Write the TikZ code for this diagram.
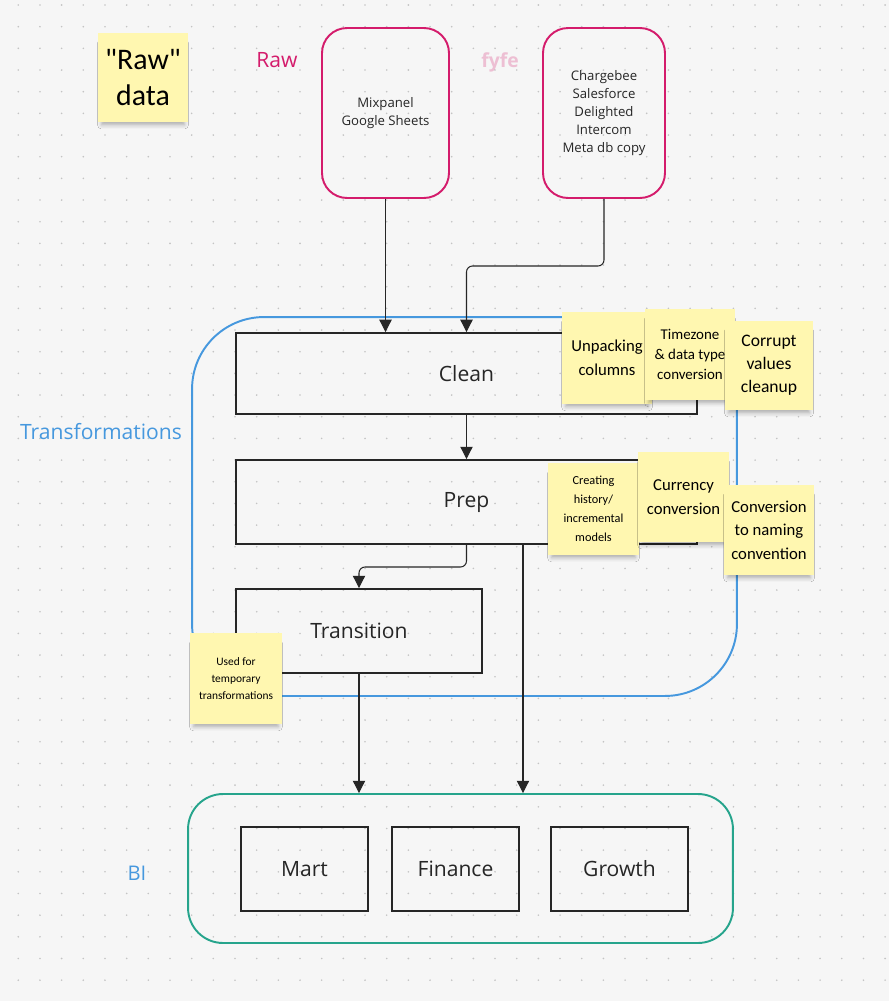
\documentclass[tikz,border=0pt]{standalone}
\usepackage{fontspec}
\setmainfont{Open Sans}
\newfontfamily\notefont{Carlito}
\usetikzlibrary{arrows.meta,shadows.blur}

\definecolor{rawpink}{RGB}{212,28,108}
\definecolor{trblue}{RGB}{70,152,222}
\definecolor{biteal}{RGB}{38,164,140}
\definecolor{noteyellow}{RGB}{255,247,176}
\definecolor{boardgray}{RGB}{246,246,246}
\definecolor{dotgray}{RGB}{196,196,196}
\definecolor{inkgray}{RGB}{38,38,38}

\begin{document}
\begin{tikzpicture}[x=0.02cm,y=-0.02cm,>={Triangle[width=7pt,length=7pt]},
  box/.style={draw=inkgray,line width=1.1pt,inner sep=0pt,text=inkgray,font=\fontsize{12}{14}\selectfont},
  srcbox/.style={draw=rawpink,line width=1.1pt,rounded corners=0.5cm,inner sep=0pt,align=center,text=inkgray,font=\fontsize{7.5}{10.2}\selectfont},
  zone/.style={line width=1.1pt,inner sep=0pt},
  note/.style={fill=noteyellow,inner sep=0pt,align=center,text=black,
    blur shadow={shadow xshift=0pt,shadow yshift=-4pt,shadow blur radius=2.5pt,shadow opacity=30,shadow scale=0.92}},
  link/.style={->,draw=inkgray,line width=0.6pt}]

\useasboundingbox (0,0) rectangle (889,1001);
\fill[boardgray] (0,0) rectangle (889,1001);
\foreach \i in {0,...,40} {
  \foreach \j in {0,...,45} {
    \fill[dotgray] (18.3+21.67*\i,5+21.67*\j) circle[radius=0.018cm];
  }
}

% raw sources
\node[note,minimum width=1.8cm,minimum height=1.78cm,font=\notefont\fontsize{17}{20}\selectfont] (rawnote) at (143,77.5) {"Raw"\\data};
\node[text=rawpink,font=\fontsize{12}{14}\selectfont] (rawlabel) at (277,60) {Raw};
\node[text=rawpink,opacity=0.25,font=\fontsize{11}{13}\selectfont\bfseries] (rawblur) at (500,62) {fyfe};
\node[srcbox,minimum width=2.54cm,minimum height=3.4cm] (mixpanel) at (385.5,113) {Mixpanel\\Google Sheets};
\node[srcbox,minimum width=2.44cm,minimum height=3.4cm] (chargebee) at (604,113) {Chargebee\\Salesforce\\Delighted\\Intercom\\Meta db copy};

% transformations
\node[zone,draw=trblue,rounded corners=1.44cm,minimum width=10.9cm,minimum height=7.58cm] (transf) at (464.5,506.5) {};
\node[text=trblue,font=\fontsize{12}{14}\selectfont] (transflabel) at (101,432) {Transformations};
\node[box,minimum width=9.22cm,minimum height=1.62cm] (clean) at (466.5,373.5) {Clean};
\node[box,minimum width=9.22cm,minimum height=1.68cm] (prep) at (466.5,502) {Prep};
\node[box,minimum width=4.92cm,minimum height=1.68cm] (transition) at (359,631) {Transition};

% BI
\node[zone,draw=biteal,rounded corners=0.7cm,minimum width=10.9cm,minimum height=2.98cm] (bi) at (460.5,868.5) {};
\node[text=trblue,font=\fontsize{11.5}{14}\selectfont] (bilabel) at (137,873) {BI};
\node[box,minimum width=2.54cm,minimum height=1.68cm] (mart) at (304.5,869) {Mart};
\node[box,minimum width=2.54cm,minimum height=1.68cm] (finance) at (455.5,869) {Finance};
\node[box,minimum width=2.74cm,minimum height=1.68cm] (growth) at (619.5,869) {Growth};

% connectors
\coordinate (cbbend) at (604,266);
\coordinate (prepbend) at (466.5,567);
\coordinate (prepout) at ([xshift=1.13cm]prep.south);
\draw[link] (mixpanel.south) -- (mixpanel.south |- clean.north);
\draw[link,rounded corners=0.12cm] (chargebee.south) -- (cbbend) -| (clean.north);
\draw[link] (clean.south) -- (prep.north);
\draw[link,rounded corners=0.12cm] (prep.south) -- (prepbend) -| (transition.north);
\draw[link] (prepout) -- (prepout |- bi.north);
\draw[link] (transition.south) -- (transition.south |- bi.north);

% sticky notes
\node[note,minimum width=1.8cm,minimum height=1.84cm,font=\notefont\fontsize{9.5}{13.7}\selectfont] (unpack) at (607,358) {Unpacking\\columns};
\node[note,minimum width=1.8cm,minimum height=1.82cm,font=\notefont\fontsize{8.5}{11.4}\selectfont] (timezone) at (690,354.5) {Timezone\\\& data type\\conversion};
\node[note,minimum width=1.76cm,minimum height=1.78cm,font=\notefont\fontsize{10}{13}\selectfont] (corrupt) at (769,365.5) {Corrupt\\values\\cleanup};
\node[note,minimum width=1.82cm,minimum height=1.84cm,font=\notefont\fontsize{7}{10.8}\selectfont] (history) at (593.5,509) {Creating\\history/\\incremental\\models};
\node[note,minimum width=1.82cm,minimum height=1.8cm,font=\notefont\fontsize{9.5}{13.7}\selectfont] (currency) at (683.5,497) {Currency\\conversion};
\node[note,minimum width=1.8cm,minimum height=1.8cm,font=\notefont\fontsize{9.5}{13.3}\selectfont] (naming) at (769,530) {Conversion\\to naming\\convention};
\node[note,minimum width=1.84cm,minimum height=1.82cm,font=\notefont\fontsize{6.5}{9.5}\selectfont] (usedfor) at (236,678.5) {Used for\\temporary\\transformations};

\end{tikzpicture}
\end{document}
